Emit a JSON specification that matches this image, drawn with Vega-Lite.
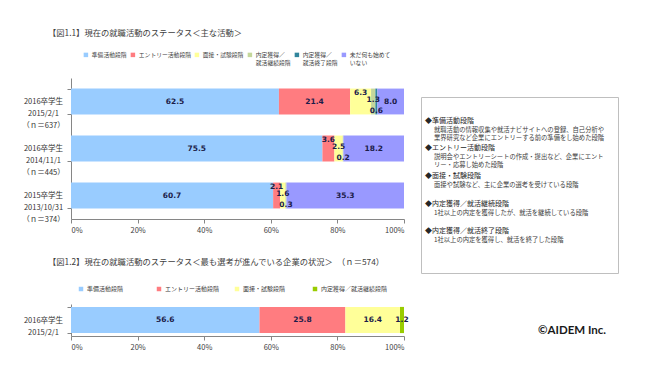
{
  "$schema": "https://vega.github.io/schema/vega-lite/v6.json",
  "background": "white",
  "padding": {"left": 21, "top": 28, "right": 0, "bottom": 0},
  "config": {
    "font": "Noto Sans CJK JP",
    "view": {"stroke": null},
    "title": {"fontWeight": "normal", "fontSize": 8.3, "color": "#404040", "anchor": "start", "frame": "group"},
    "axis": {"domainColor": "#868686", "tickColor": "#868686", "labelColor": "#404040", "grid": false, "title": null, "tickSize": 4}
  },
  "hconcat": [
    {
      "vconcat": [
        {
          "width": 333,
          "height": 141,
          "title": {"text": "【図1.1】現在の就職活動のステータス＜主な活動＞", "dx": -23, "offset": 15},
          "data": {"values": [
            {"row": "2016卒学生|2015/2/1|（ｎ＝637）", "stage": "準備活動段階", "value": 62.5},
            {"row": "2016卒学生|2015/2/1|（ｎ＝637）", "stage": "エントリー活動段階", "value": 21.4},
            {"row": "2016卒学生|2015/2/1|（ｎ＝637）", "stage": "面接・試験段階", "value": 6.3},
            {"row": "2016卒学生|2015/2/1|（ｎ＝637）", "stage": "内定獲得／就活継続段階", "value": 1.3},
            {"row": "2016卒学生|2015/2/1|（ｎ＝637）", "stage": "内定獲得／就活終了段階", "value": 0.6},
            {"row": "2016卒学生|2015/2/1|（ｎ＝637）", "stage": "未だ何も始めていない", "value": 8.0},
            {"row": "2016卒学生|2014/11/1|（ｎ＝445）", "stage": "準備活動段階", "value": 75.5},
            {"row": "2016卒学生|2014/11/1|（ｎ＝445）", "stage": "エントリー活動段階", "value": 3.6},
            {"row": "2016卒学生|2014/11/1|（ｎ＝445）", "stage": "面接・試験段階", "value": 2.5},
            {"row": "2016卒学生|2014/11/1|（ｎ＝445）", "stage": "内定獲得／就活継続段階", "value": 0.2},
            {"row": "2016卒学生|2014/11/1|（ｎ＝445）", "stage": "未だ何も始めていない", "value": 18.2},
            {"row": "2015卒学生|2013/10/31|（ｎ＝374）", "stage": "準備活動段階", "value": 60.7},
            {"row": "2015卒学生|2013/10/31|（ｎ＝374）", "stage": "エントリー活動段階", "value": 2.1},
            {"row": "2015卒学生|2013/10/31|（ｎ＝374）", "stage": "面接・試験段階", "value": 1.6},
            {"row": "2015卒学生|2013/10/31|（ｎ＝374）", "stage": "内定獲得／就活継続段階", "value": 0.3},
            {"row": "2015卒学生|2013/10/31|（ｎ＝374）", "stage": "未だ何も始めていない", "value": 35.3}
          ]},
          "transform": [
            {"calculate": "indexof(['準備活動段階','エントリー活動段階','面接・試験段階','内定獲得／就活継続段階','内定獲得／就活終了段階','未だ何も始めていない'], datum.stage)", "as": "idx"},
            {"stack": "value", "groupby": ["row"], "sort": [{"field": "idx", "order": "ascending"}], "offset": "normalize", "as": ["v0", "v1"]},
            {"calculate": "(datum.v0 + datum.v1) / 2", "as": "mid"},
            {"calculate": "datum.value < 7", "as": "small"},
            {"window": [{"op": "row_number", "as": "r"}], "groupby": ["row", "small"], "sort": [{"field": "idx", "order": "ascending"}]}
          ],
          "encoding": {
            "y": {
              "field": "row", "type": "nominal",
              "sort": ["2016卒学生|2015/2/1|（ｎ＝637）", "2016卒学生|2014/11/1|（ｎ＝445）", "2015卒学生|2013/10/31|（ｎ＝374）"],
              "scale": {"paddingInner": 0.45, "paddingOuter": 0.225},
              "axis": {"labelExpr": "split(datum.label, '|')", "labelAlign": "center", "labelPadding": 24, "labelFontSize": 7.5, "labelLineHeight": 12, "tickBand": "extent", "labelColor": "#333333"}
            }
          },
          "layer": [
            {
              "mark": {"type": "bar"},
              "encoding": {
                "x": {"field": "v0", "type": "quantitative", "scale": {"domain": [0, 1], "nice": false},
                  "axis": {"values": [0, 0.2, 0.4, 0.6, 0.8, 1], "format": ".0%", "labelFontSize": 7.5, "labelPadding": 3}},
                "x2": {"field": "v1"},
                "color": {
                  "field": "stage", "type": "nominal",
                  "scale": {
                    "domain": ["準備活動段階", "エントリー活動段階", "面接・試験段階", "内定獲得／就活継続段階", "内定獲得／就活終了段階", "未だ何も始めていない"],
                    "range": ["#99CCFF", "#FF7C80", "#FFFF99", "#C4D79B", "#31859C", "#9999FF"]
                  },
                  "legend": {
                    "orient": "none", "legendX": 12, "legendY": -26, "direction": "horizontal", "columns": 6,
                    "gridAlign": "none", "columnPadding": 3, "symbolType": "square", "symbolSize": 20, "symbolStrokeWidth": 0,
                    "labelFontSize": 5.8, "labelColor": "#404040", "labelLimit": 0, "title": null, "labelOffset": 3,
                    "labelExpr": "indexof(datum.label,'／') >= 0 ? [substring(datum.label,0,indexof(datum.label,'／')+1), substring(datum.label,indexof(datum.label,'／')+1)] : datum.label == '未だ何も始めていない' ? ['未だ何も始めて','いない'] : datum.label"
                  }
                }
              }
            },
            {
              "mark": {"type": "text", "fontSize": 7.5, "fontWeight": "bold", "font": "DejaVu Sans", "color": "#1c1c4a", "align": "center", "baseline": "middle",
                "dy": {"expr": "datum.small ? (datum.r == 1 ? -9 : datum.r == 2 ? -2 : 9) : 0"}},
              "encoding": {
                "x": {"field": "mid", "type": "quantitative"},
                "text": {"field": "value", "type": "quantitative", "format": ".1f"}
              }
            }
          ]
        },
        {
          "width": 333,
          "height": 32,
          "title": {"text": "【図1.2】現在の就職活動のステータス＜最も選考が進んでいる企業の状況＞　（ｎ＝574）", "dx": -23, "offset": 20},
          "data": {"values": [
            {"row": "2016卒学生|2015/2/1", "stage": "準備活動段階", "value": 56.6},
            {"row": "2016卒学生|2015/2/1", "stage": "エントリー活動段階", "value": 25.8},
            {"row": "2016卒学生|2015/2/1", "stage": "面接・試験段階", "value": 16.4},
            {"row": "2016卒学生|2015/2/1", "stage": "内定獲得／就活継続段階", "value": 1.2}
          ]},
          "transform": [
            {"calculate": "indexof(['準備活動段階','エントリー活動段階','面接・試験段階','内定獲得／就活継続段階'], datum.stage)", "as": "idx"},
            {"stack": "value", "groupby": ["row"], "sort": [{"field": "idx", "order": "ascending"}], "offset": "normalize", "as": ["v0", "v1"]},
            {"calculate": "(datum.v0 + datum.v1) / 2", "as": "mid"}
          ],
          "encoding": {
            "y": {
              "field": "row", "type": "nominal",
              "scale": {"paddingInner": 0.1, "paddingOuter": 0.1},
              "axis": {"labelExpr": "split(datum.label, '|')", "labelAlign": "center", "labelPadding": 24, "labelFontSize": 7.5, "labelLineHeight": 12, "tickBand": "extent", "labelColor": "#333333"}
            }
          },
          "layer": [
            {
              "mark": {"type": "bar"},
              "encoding": {
                "x": {"field": "v0", "type": "quantitative", "scale": {"domain": [0, 1], "nice": false},
                  "axis": {"values": [0, 0.2, 0.4, 0.6, 0.8, 1], "format": ".0%", "labelFontSize": 7.5, "labelPadding": 3}},
                "x2": {"field": "v1"},
                "color": {
                  "field": "stage", "type": "nominal",
                  "scale": {
                    "domain": ["準備活動段階", "エントリー活動段階", "面接・試験段階", "内定獲得／就活継続段階"],
                    "range": ["#99CCFF", "#FF7C80", "#FFFF99", "#99CC00"]
                  },
                  "legend": {
                    "orient": "none", "legendX": 7, "legendY": -18, "direction": "horizontal", "columns": 4,
                    "gridAlign": "all", "columnPadding": 2, "symbolType": "square", "symbolSize": 20, "symbolStrokeWidth": 0,
                    "labelFontSize": 6, "labelColor": "#404040", "labelLimit": 0, "title": null, "labelOffset": 3
                  }
                }
              }
            },
            {
              "mark": {"type": "text", "fontSize": 7.5, "fontWeight": "bold", "font": "DejaVu Sans", "color": "#1c1c4a", "align": "center", "baseline": "middle"},
              "encoding": {
                "x": {"field": "mid", "type": "quantitative"},
                "text": {"field": "value", "type": "quantitative", "format": ".1f"}
              }
            }
          ]
        }
      ],
      "spacing": 23,
      "resolve": {"scale": {"color": "independent"}, "legend": {"color": "independent"}}
    },
    {
      "vconcat": [
        {
          "width": 197,
          "height": 8,
          "view": {"fill": "white", "stroke": null},
          "data": {"values": []},
          "mark": {"type": "text"},
          "encoding": {}
        },
        {
          "width": 197,
          "height": 176,
          "view": {"stroke": "#BFBFBF", "strokeWidth": 1, "fill": "white"},
          "data": {"values": [
            {"i": 1, "h": "◆準備活動段階", "d": "就職活動の情報収集や就活ナビサイトへの登録、自己分析や|業界研究など企業にエントリーする前の準備をし始めた段階"},
            {"i": 2, "h": "◆エントリー活動段階", "d": "説明会やエントリーシートの作成・提出など、企業にエント|リー・応募し始めた段階"},
            {"i": 3, "h": "◆面接・試験段階", "d": "面接や試験など、主に企業の選考を受けている段階"},
            {"i": 4, "h": "◆内定獲得／就活継続段階", "d": "1社以上の内定を獲得したが、就活を継続している段階"},
            {"i": 5, "h": "◆内定獲得／就活終了段階", "d": "1社以上の内定を獲得し、就活を終了した段階"}
          ]},
          "encoding": {
            "y": {"field": "i", "type": "ordinal", "scale": {"type": "point", "range": [10, 148]}, "axis": null},
            "x": {"datum": 0, "type": "quantitative", "scale": {"domain": [0, 1]}, "axis": null}
          },
          "layer": [
            {"mark": {"type": "text", "align": "left", "baseline": "middle", "dx": 4, "fontSize": 7, "color": "#262626"},
             "encoding": {"text": {"field": "h"}}},
            {"mark": {"type": "text", "align": "left", "baseline": "top", "dx": 13, "dy": 6, "fontSize": 6.3, "lineHeight": 8, "lineBreak": "|", "color": "#404040"},
             "encoding": {"text": {"field": "d"}}}
          ]
        },
        {
          "width": 197,
          "height": 94,
          "view": {"fill": "white", "stroke": null},
          "data": {"values": [{"t": "©AIDEM Inc."}]},
          "mark": {"type": "text", "align": "right", "baseline": "middle", "dx": -12, "fontSize": 11.5, "fontWeight": "bold", "font": "Lato", "color": "#1a1a1a"},
          "encoding": {
            "text": {"field": "t"},
            "x": {"datum": 1, "type": "quantitative", "scale": {"domain": [0, 1]}, "axis": null},
            "y": {"datum": 0.5, "type": "quantitative", "scale": {"domain": [0, 1]}, "axis": null}
          }
        }
      ],
      "spacing": 10
    }
  ],
  "spacing": 11
}
